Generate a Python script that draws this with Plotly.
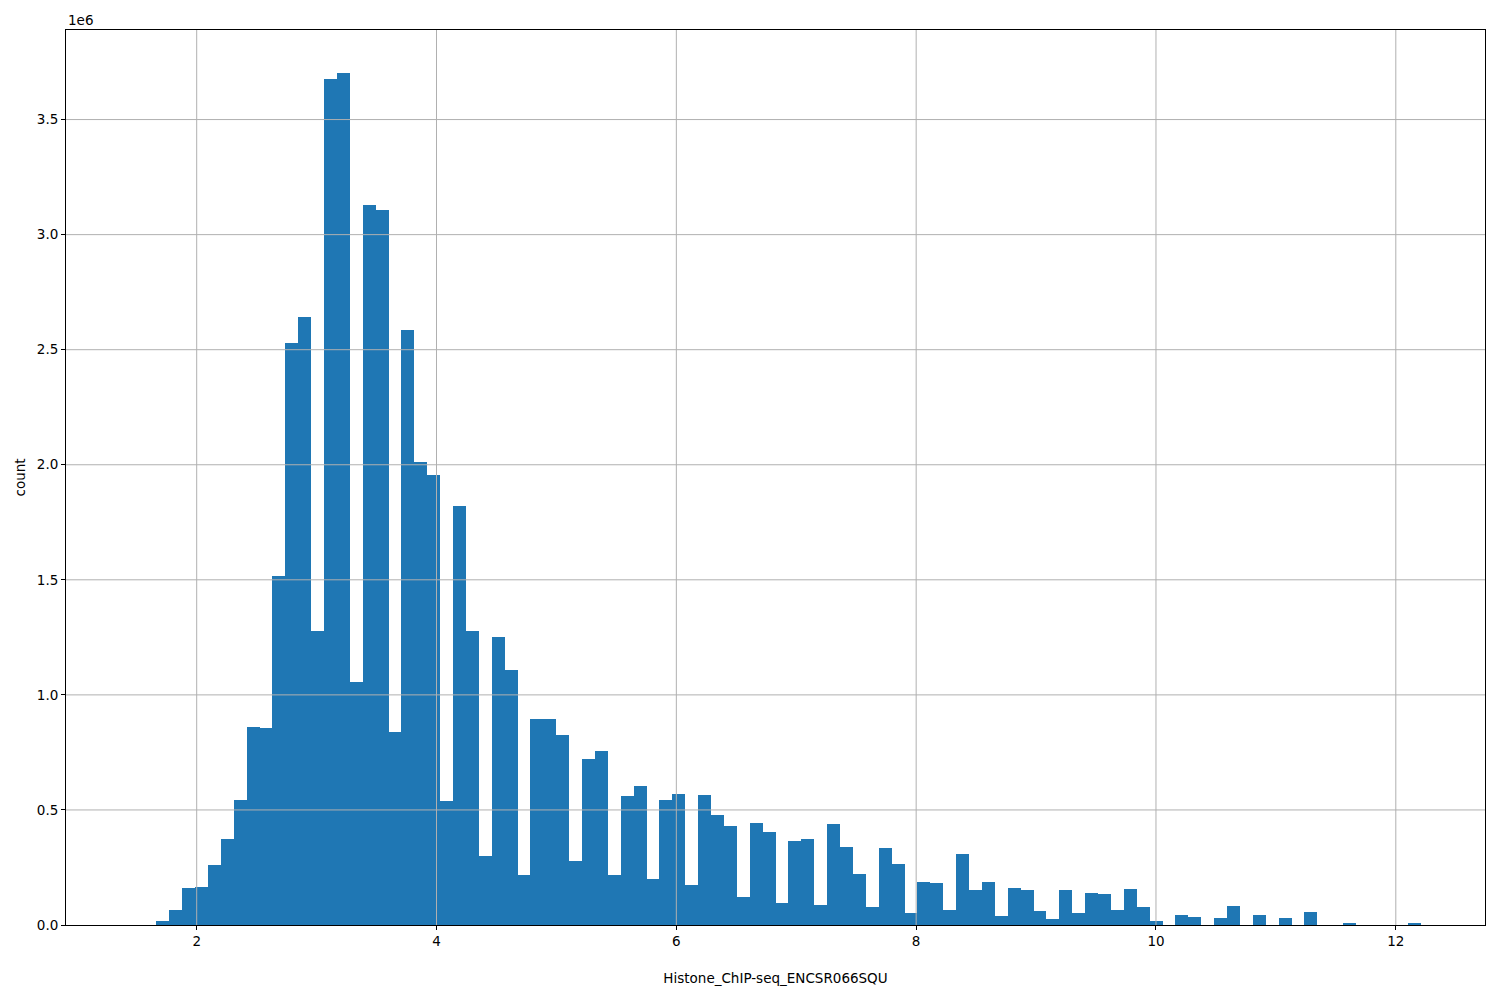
import numpy as np
import plotly.graph_objects as go

# Histogram data (100 equal-width bins between data min and max)
bin_start = 1.448
bin_end = 12.206
counts = [
    0, 0, 0.017e6, 0.065e6, 0.161e6, 0.165e6, 0.261e6, 0.374e6, 0.543e6, 0.861e6,
    0.857e6, 1.517e6, 2.530e6, 2.643e6, 1.278e6, 3.678e6, 3.704e6, 1.057e6, 3.130e6, 3.109e6,
    0.839e6, 2.587e6, 2.013e6, 1.957e6, 0.539e6, 1.822e6, 1.278e6, 0.300e6, 1.252e6, 1.109e6,
    0.217e6, 0.896e6, 0.896e6, 0.826e6, 0.278e6, 0.722e6, 0.757e6, 0.217e6, 0.561e6, 0.604e6,
    0.200e6, 0.543e6, 0.570e6, 0.174e6, 0.565e6, 0.478e6, 0.430e6, 0.122e6, 0.443e6, 0.404e6,
    0.096e6, 0.365e6, 0.374e6, 0.087e6, 0.439e6, 0.339e6, 0.222e6, 0.078e6, 0.335e6, 0.265e6,
    0.052e6, 0.187e6, 0.183e6, 0.065e6, 0.309e6, 0.152e6, 0.187e6, 0.039e6, 0.162e6, 0.152e6,
    0.061e6, 0.026e6, 0.152e6, 0.052e6, 0.139e6, 0.135e6, 0.065e6, 0.157e6, 0.078e6, 0.017e6,
    0, 0.043e6, 0.035e6, 0, 0.030e6, 0.083e6, 0, 0.0435e6, 0, 0.030e6,
    0, 0.057e6, 0, 0, 0.009e6, 0, 0, 0, 0, 0.006e6,
]
x_ticks = [2, 4, 6, 8, 10, 12]
y_ticks = [0, 0.5e6, 1.0e6, 1.5e6, 2.0e6, 2.5e6, 3.0e6, 3.5e6]
y_ticklabels = ["0.0", "0.5", "1.0", "1.5", "2.0", "2.5", "3.0", "3.5"]
x_label = "Histone_ChIP-seq_ENCSR066SQU"
y_label = "count"

n = len(counts)
edges = np.linspace(bin_start, bin_end, n + 1)
centers = (edges[:-1] + edges[1:]) / 2
width = edges[1] - edges[0]

span = bin_end - bin_start
x_range = [bin_start - 0.05 * span, bin_end + 0.05 * span]
y_range = [0, 1.05 * max(counts)]

fig = go.Figure()
fig.add_trace(go.Bar(
    x=centers, y=counts, width=[width] * n,
    marker=dict(color="#1f77b4", line=dict(width=0)),
    hoverinfo="x+y",
))

grid_color = "#b0b0b0"
shapes = []
for xv in x_ticks:
    shapes.append(dict(type="line", xref="x", yref="paper", x0=xv, x1=xv, y0=0, y1=1,
                       line=dict(color=grid_color, width=1), layer="above"))
for yv in y_ticks[1:]:
    shapes.append(dict(type="line", xref="paper", yref="y", x0=0, x1=1, y0=yv, y1=yv,
                       line=dict(color=grid_color, width=1), layer="above"))

font = dict(family="DejaVu Sans", size=13.5, color="black")
fig.update_layout(
    width=1500, height=1000,
    margin=dict(l=58, r=23, t=22, b=83),
    plot_bgcolor="white", paper_bgcolor="white",
    font=font,
    showlegend=False,
    bargap=0,
    shapes=shapes,
    xaxis=dict(
        range=x_range, tickvals=x_ticks, showgrid=False, zeroline=False,
        showline=True, linecolor="black", linewidth=1, mirror=True,
        ticks="outside", ticklen=4, tickcolor="black",
        title=dict(text=x_label, font=font, standoff=25),
    ),
    yaxis=dict(
        range=y_range, tickvals=y_ticks, ticktext=y_ticklabels, showgrid=False, zeroline=False,
        showline=True, linecolor="black", linewidth=1, mirror=True,
        ticks="outside", ticklen=4, tickcolor="black",
        title=dict(text=y_label, font=font, standoff=8),
    ),
    annotations=[dict(text="1e6", xref="paper", yref="paper", x=0, y=1,
                      xanchor="left", yanchor="bottom", yshift=0, showarrow=False, font=font)],
)

fig.write_html("out.html")
